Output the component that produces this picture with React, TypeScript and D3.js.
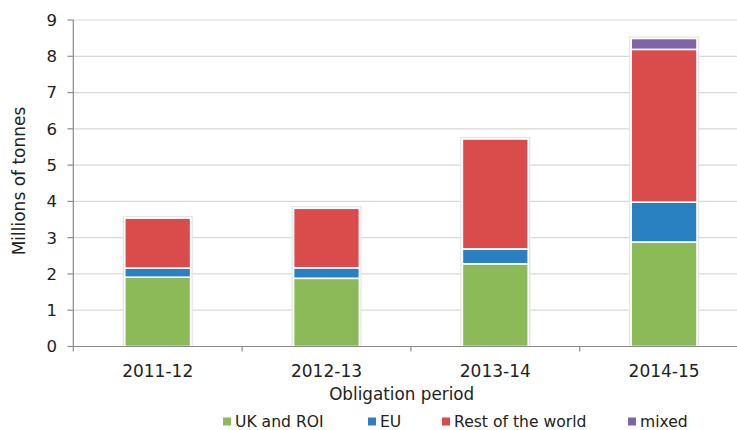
import React from "react";
import * as d3 from "d3";

const categories = ["2011-12", "2012-13", "2013-14", "2014-15"];
const seriesNames = ["UK and ROI", "EU", "Rest of the world", "mixed"];
const ukAndRoi = [1.91, 1.88, 2.28, 2.88];
const eu = [0.25, 0.29, 0.41, 1.1];
const restOfWorld = [1.38, 1.64, 3.03, 4.21];
const mixed = [0, 0, 0, 0.3];
const yTicks = [0, 1, 2, 3, 4, 5, 6, 7, 8, 9];
const colors = ["#8cba59", "#2a81c1", "#da4c4c", "#8064a9"];

const W = 737;
const H = 430;
const FONT = "'DejaVu Sans', Verdana, sans-serif";

export default function App() {
  const rows = categories.map((c, i) => ({
    cat: c,
    [seriesNames[0]]: ukAndRoi[i],
    [seriesNames[1]]: eu[i],
    [seriesNames[2]]: restOfWorld[i],
    [seriesNames[3]]: mixed[i],
  }));
  const stacked = d3.stack<any>().keys(seriesNames)(rows);

  const x = d3.scaleBand<string>().domain(categories).range([73.3, 748.5]).padding(0);
  const y = d3.scaleLinear().domain([0, 9]).range([346.5, 20]);
  const bw = x.bandwidth() * 0.39;
  const bx = (c: string) => (x(c) as number) + (x.bandwidth() - bw) / 2;

  const legendX = [223, 368, 442, 628];

  return (
    <div style={{ position: "fixed", left: 0, top: 0 }}>
      <svg width={W} height={H} style={{ display: "block", background: "#fff" }} fontFamily={FONT}>
        {/* gridlines */}
        {yTicks.map((t) => (
          <line key={"g" + t} x1={73.3} x2={W} y1={y(t)} y2={y(t)} stroke="#d9d9d9" strokeWidth={1.2} />
        ))}
        {/* y tick marks and labels */}
        {yTicks.map((t) => (
          <g key={"yt" + t}>
            <line x1={67.5} x2={73.3} y1={y(t)} y2={y(t)} stroke="#8c8c8c" strokeWidth={1.2} />
            <text x={57} y={y(t)} dy="0.36em" textAnchor="end" fontSize={16.5} fill="#222">
              {t}
            </text>
          </g>
        ))}
        {/* bar shadows */}
        {categories.map((c, i) => {
          const top = stacked[stacked.length - 1][i][1];
          return (
            <rect key={"s" + c} x={bx(c) - 1.5} y={y(top) - 1.5} width={bw + 3} height={y(0) - y(top) + 1.5}
              fill="none" stroke="#e4e4e4" strokeWidth={1.3} />
          );
        })}
        {/* bars */}
        {stacked.map((s, si) =>
          s.map((d, i) =>
            d[1] - d[0] > 0 ? (
              <rect key={si + "-" + i} x={bx(categories[i])} y={y(d[1])} width={bw}
                height={y(d[0]) - y(d[1])} fill={colors[si]} stroke="#fff" strokeWidth={1.6} />
            ) : null
          )
        )}
        {/* axes */}
        <line x1={73.3} x2={73.3} y1={y(9)} y2={y(0)} stroke="#8c8c8c" strokeWidth={1.2} />
        <line x1={73.3} x2={W} y1={y(0)} y2={y(0)} stroke="#8c8c8c" strokeWidth={1.2} />
        {categories.map((c) => (
          <line key={"xt" + c} x1={x(c) as number} x2={x(c) as number} y1={y(0)} y2={y(0) + 5}
            stroke="#8c8c8c" strokeWidth={1.2} />
        ))}
        {categories.map((c) => (
          <text key={"xl" + c} x={(x(c) as number) + x.bandwidth() / 2} y={376.5} textAnchor="middle"
            fontSize={17} fill="#222">
            {c}
          </text>
        ))}
        <text x={401.7} y={399.5} textAnchor="middle" fontSize={16.8} fill="#222">
          Obligation period
        </text>
        <text transform={`translate(25,181) rotate(-90)`} textAnchor="middle" fontSize={17} fill="#222">
          Millions of tonnes
        </text>
        {/* legend */}
        {seriesNames.map((n, i) => (
          <g key={"lg" + n}>
            <rect x={legendX[i]} y={417.5} width={8} height={8} fill={colors[i]} />
            <text x={legendX[i] + 12} y={426.5} fontSize={15.6} fill="#222">
              {n}
            </text>
          </g>
        ))}
      </svg>
    </div>
  );
}
